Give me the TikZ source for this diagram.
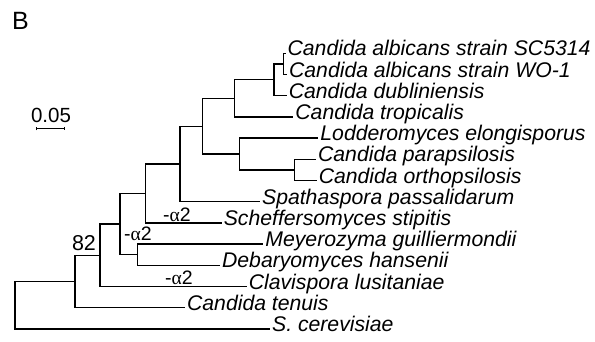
\documentclass[tikz,border=0pt]{standalone}
\usepackage{fontspec}
\setmainfont{Liberation Sans}
\newfontfamily\greekfont{Liberation Serif}
\usetikzlibrary{arrows.meta}

\tikzset{
  taxon/.style={anchor=mid west, inner xsep=1.5pt, inner ysep=0pt,
    font=\fontsize{21.2}{25}\selectfont\itshape},
  support/.style={anchor=base, inner sep=0pt, font=\fontsize{21.5}{25}\selectfont},
  loss/.style={anchor=base, inner sep=0pt, font=\fontsize{19.5}{23}\selectfont},
}
\newcommand{\lossalpha}{-{\greekfont α}2}

\begin{document}
\begin{tikzpicture}[x=1pt, y=-1pt, line width=1.25pt]
  \useasboundingbox (0,0) rectangle (595,341);
  \node[anchor=base west, inner sep=0pt, font=\fontsize{25}{29}\selectfont] (panel) at (11.5,29) {B};

  % scale bar
  \coordinate (bar0) at (35.7,128.7);
  \coordinate (bar1) at (65,128.7);
  \draw[line width=1pt, {Bar[width=3.5pt]}-{Bar[width=3.5pt]}] (bar0) -- (bar1);
  \node[anchor=base, inner sep=0pt, font=\fontsize{20.5}{24}\selectfont] (barlabel) at (51,122) {0.05};

  % taxa
  \node[taxon] (sc)   at (285.5,53.3)  {Candida albicans strain SC5314};
  \node[taxon] (wo)   at (287,74.5)    {Candida albicans strain WO-1};
  \node[taxon] (dub)  at (286.7,95.7)  {Candida dubliniensis};
  \node[taxon] (trop) at (293.3,116.9) {Candida tropicalis};
  \node[taxon] (lod)  at (318.3,138.1) {Lodderomyces elongisporus};
  \node[taxon] (para) at (316,159.3)   {Candida parapsilosis};
  \node[taxon] (orth) at (316.7,180.5) {Candida orthopsilosis};
  \node[taxon] (spa)  at (260,201.7)   {Spathaspora passalidarum};
  \node[taxon] (sch)  at (221.7,222.9) {Scheffersomyces stipitis};
  \node[taxon] (mey)  at (263.3,244.1) {Meyerozyma guilliermondii};
  \node[taxon] (deb)  at (220,265.3)   {Debaryomyces hansenii};
  \node[taxon] (clav) at (246.7,286.5) {Clavispora lusitaniae};
  \node[taxon] (ten)  at (185,307.7)   {Candida tenuis};
  \node[taxon] (scer) at (270,328.9)   {S. cerevisiae};

  % clades
  \coordinate (root)   at (15,305.2);
  \coordinate (cug)    at (75,281.5);
  \coordinate (clavcl) at (100,255.3);
  \coordinate (debcl)  at (120,224);
  \coordinate (meycl)  at (137.3,254.7);
  \coordinate (schcl)  at (145.7,193.4);
  \coordinate (spacl)  at (180,164);
  \coordinate (cand)   at (202.7,126.2);
  \coordinate (tropcl) at (234.3,98.35);
  \coordinate (dubcl)  at (274,79.8);
  \coordinate (albcl)  at (283.3,63.9);
  \coordinate (lodcl)  at (239.3,154);
  \coordinate (psicl)  at (294.3,169.9);

  \draw (root) |- (cug);      \draw (root) |- (scer.mid west);
  \draw (cug) |- (clavcl);    \draw (cug) |- (ten.mid west);
  \draw (clavcl) |- (debcl);  \draw (clavcl) |- (clav.mid west);
  \draw (debcl) |- (schcl);   \draw (debcl) |- (meycl);
  \draw (meycl) |- (mey.mid west); \draw (meycl) |- (deb.mid west);
  \draw (schcl) |- (spacl);   \draw (schcl) |- (sch.mid west);
  \draw (spacl) |- (cand);    \draw (spacl) |- (spa.mid west);
  \draw (cand) |- (tropcl);   \draw (cand) |- (lodcl);
  \draw (tropcl) |- (dubcl);  \draw (tropcl) |- (trop.mid west);
  \draw (dubcl) |- (albcl);   \draw (dubcl) |- (dub.mid west);
  \draw (albcl) |- (sc.mid west); \draw (albcl) |- (wo.mid west);
  \draw (lodcl) |- (lod.mid west); \draw (lodcl) |- (psicl);
  \draw (psicl) |- (para.mid west); \draw (psicl) |- (orth.mid west);

  % branch labels
  \node[support] (boot82) at (84,250) {82};
  \node[loss] (lossa) at (177,221) {\lossalpha};
  \node[loss] (lossb) at (138,240) {\lossalpha};
  \node[loss] (lossc) at (179,284.5) {\lossalpha};
\end{tikzpicture}
\end{document}
